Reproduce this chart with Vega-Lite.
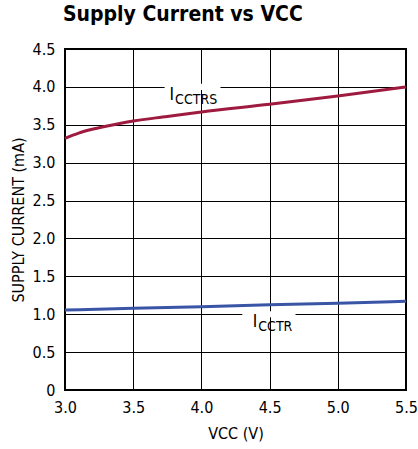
{
  "$schema": "https://vega.github.io/schema/vega-lite/v6.json",
  "width": 341,
  "height": 341,
  "autosize": "none",
  "padding": {"left": 65, "top": 49, "right": 12, "bottom": 59},
  "title": {"text": "Supply Current vs VCC", "anchor": "start", "frame": "group", "font": "Liberation Sans Narrow, DejaVu Sans Condensed, Roboto, sans-serif", "fontSize": 21, "fontWeight": "bold", "color": "#000", "offset": 16, "dx": -2},
  "config": {
    "font": "Liberation Sans Narrow, DejaVu Sans Condensed, Roboto, sans-serif",
    "view": {"stroke": "#000", "strokeWidth": 2},
    "axis": {"gridColor": "#000", "gridOpacity": 1, "gridWidth": 1, "domain": false, "ticks": false, "labelOverlap": false, "labelFontSize": 16, "labelColor": "#000", "titleFontSize": 16, "titleFontWeight": "normal", "titleColor": "#000"}
  },
  "datasets": {
    "curves": [
      {"series": "ICCTRS", "vcc": 3.0, "current": 3.32},
      {"series": "ICCTRS", "vcc": 3.1, "current": 3.39},
      {"series": "ICCTRS", "vcc": 3.2, "current": 3.44},
      {"series": "ICCTRS", "vcc": 3.3, "current": 3.48},
      {"series": "ICCTRS", "vcc": 3.5, "current": 3.55},
      {"series": "ICCTRS", "vcc": 3.75, "current": 3.61},
      {"series": "ICCTRS", "vcc": 4.0, "current": 3.67},
      {"series": "ICCTRS", "vcc": 4.5, "current": 3.77},
      {"series": "ICCTRS", "vcc": 5.0, "current": 3.88},
      {"series": "ICCTRS", "vcc": 5.5, "current": 4.0},
      {"series": "ICCTR", "vcc": 3.0, "current": 1.055},
      {"series": "ICCTR", "vcc": 3.5, "current": 1.08},
      {"series": "ICCTR", "vcc": 4.0, "current": 1.10},
      {"series": "ICCTR", "vcc": 4.5, "current": 1.125},
      {"series": "ICCTR", "vcc": 5.0, "current": 1.145},
      {"series": "ICCTR", "vcc": 5.5, "current": 1.17}
    ],
    "labels": [
      {"main": "I", "sub": "CCTRS", "x": 3.8, "y": 3.83, "gx1": 3.73, "gx2": 4.14, "gy1": 3.96, "gy2": 4.04},
      {"main": "I", "sub": "CCTR", "x": 4.41, "y": 0.83, "gx1": 4.3, "gx2": 4.69, "gy1": 0.96, "gy2": 1.04}
    ]
  },
  "layer": [
    {
      "data": {"name": "labels"},
      "mark": {"type": "rect", "fill": "white"},
      "encoding": {
        "x": {"field": "gx1", "type": "quantitative", "scale": {"domain": [3, 5.5], "nice": false}, "axis": {"values": [3, 3.5, 4, 4.5, 5, 5.5], "format": ".1f", "title": "VCC (V)", "labelPadding": 9, "titlePadding": 10, "labelFlush": false}},
        "x2": {"field": "gx2"},
        "y": {"field": "gy1", "type": "quantitative", "scale": {"domain": [0, 4.5], "nice": false}, "axis": {"values": [0, 0.5, 1, 1.5, 2, 2.5, 3, 3.5, 4, 4.5], "labelExpr": "datum.value == 0 ? '0' : format(datum.value, '.1f')", "title": "SUPPLY CURRENT (mA)", "labelPadding": 10, "titlePadding": 6}},
        "y2": {"field": "gy2"}
      }
    },
    {
      "data": {"name": "curves"},
      "mark": {"type": "line", "strokeWidth": 3, "interpolate": "monotone"},
      "encoding": {
        "x": {"field": "vcc", "type": "quantitative", "axis": {"values": [3, 3.5, 4, 4.5, 5, 5.5], "format": ".1f", "title": "VCC (V)", "labelPadding": 9, "titlePadding": 10, "labelFlush": false}},
        "y": {"field": "current", "type": "quantitative", "axis": {"values": [0, 0.5, 1, 1.5, 2, 2.5, 3, 3.5, 4, 4.5], "labelExpr": "datum.value == 0 ? '0' : format(datum.value, '.1f')", "title": "SUPPLY CURRENT (mA)", "labelPadding": 10, "titlePadding": 6}},
        "color": {"field": "series", "type": "nominal", "scale": {"domain": ["ICCTRS", "ICCTR"], "range": ["#9e1a3e", "#3a55a6"]}, "legend": null}
      }
    },
    {
      "data": {"name": "labels"},
      "mark": {"type": "text", "align": "right", "baseline": "alphabetic", "fontSize": 17, "color": "#000"},
      "encoding": {
        "x": {"field": "x", "type": "quantitative", "axis": {"values": [3, 3.5, 4, 4.5, 5, 5.5], "format": ".1f", "title": "VCC (V)", "labelPadding": 9, "titlePadding": 10, "labelFlush": false}},
        "y": {"field": "y", "type": "quantitative", "axis": {"values": [0, 0.5, 1, 1.5, 2, 2.5, 3, 3.5, 4, 4.5], "labelExpr": "datum.value == 0 ? '0' : format(datum.value, '.1f')", "title": "SUPPLY CURRENT (mA)", "labelPadding": 10, "titlePadding": 6}},
        "text": {"field": "main"}
      }
    },
    {
      "data": {"name": "labels"},
      "mark": {"type": "text", "align": "left", "baseline": "alphabetic", "fontSize": 14, "dy": 4, "dx": 1, "color": "#000"},
      "encoding": {
        "x": {"field": "x", "type": "quantitative", "axis": {"values": [3, 3.5, 4, 4.5, 5, 5.5], "format": ".1f", "title": "VCC (V)", "labelPadding": 9, "titlePadding": 10, "labelFlush": false}},
        "y": {"field": "y", "type": "quantitative", "axis": {"values": [0, 0.5, 1, 1.5, 2, 2.5, 3, 3.5, 4, 4.5], "labelExpr": "datum.value == 0 ? '0' : format(datum.value, '.1f')", "title": "SUPPLY CURRENT (mA)", "labelPadding": 10, "titlePadding": 6}},
        "text": {"field": "sub"}
      }
    }
  ]
}
